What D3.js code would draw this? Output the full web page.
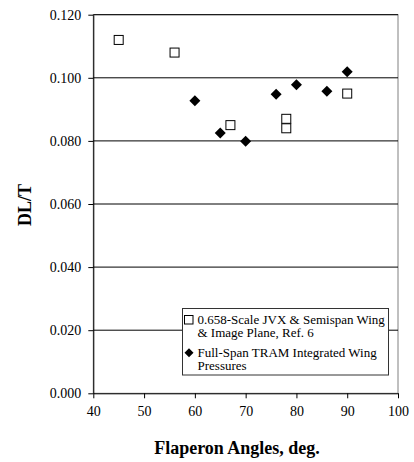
<!DOCTYPE html>
<html>
<head>
<meta charset="utf-8">
<style>
  body { margin: 0; background: #fff; }
  svg, svg text { font-family: "Liberation Serif", "Times New Roman", serif !important; }
</style>
</head>
<body>
<svg width="414" height="462"></svg>
<script src="https://d3js.org/d3.v7.min.js"></script>
<script>

// data
var jvxAngles = [45, 56, 67, 78, 78, 90];
var jvxDLT    = [0.112, 0.108, 0.085, 0.087, 0.084, 0.095];
var tramAngles = [60, 65, 70, 76, 80, 86, 90];
var tramDLT    = [0.0927, 0.0825, 0.0799, 0.0948, 0.0978, 0.0957, 0.1019];
var xTicks = [40, 50, 60, 70, 80, 90, 100];
var yTicks = [0, 0.02, 0.04, 0.06, 0.08, 0.10, 0.12];
var legendLines = [
  ["0.658-Scale JVX & Semispan Wing", "& Image Plane, Ref. 6"],
  ["Full-Span TRAM Integrated Wing", "Pressures"]
];

var svg = d3.select("svg"),
    margin = {top: 14.7, right: 16, bottom: 68.7, left: 93.3},
    width = +svg.attr("width") - margin.left - margin.right,
    height = +svg.attr("height") - margin.top - margin.bottom,
    g = svg.append("g")
      .attr("transform", "translate(" + margin.left + "," + margin.top + ")");

var x = d3.scaleLinear().domain([40, 100]).range([0, width]);
var y = d3.scaleLinear().domain([0, 0.12]).range([height, 0]);

// plot frame (grey) then grid
g.append("rect")
    .attr("width", width).attr("height", height)
    .attr("fill", "none").attr("stroke", "#808080");

g.selectAll(".grid")
    .data(yTicks.filter(function(d) { return d > 0; }))
  .enter().append("line")
    .attr("x1", 0).attr("x2", width)
    .attr("y1", function(d) { return y(d); })
    .attr("y2", function(d) { return y(d); })
    .attr("stroke", "#000").attr("stroke-width", 1);

// axes
var xAxis = g.append("g")
    .attr("transform", "translate(0," + height + ")")
    .call(d3.axisBottom(x).tickValues(xTicks).tickSize(5).tickSizeOuter(0).tickPadding(8));
var yAxis = g.append("g")
    .call(d3.axisLeft(y).tickValues(yTicks).tickFormat(d3.format(".3f")).tickSize(5).tickSizeOuter(0).tickPadding(7));

[xAxis, yAxis].forEach(function(a) {
  a.attr("font-family", null).attr("font-size", null);
  a.selectAll("text").style("font-size", "14px").attr("fill", "#000");
  a.selectAll("line, path").attr("stroke", "#000");
});

// series
var jvx = jvxAngles.map(function(a, i) { return [a, jvxDLT[i]]; });
var tram = tramAngles.map(function(a, i) { return [a, tramDLT[i]]; });

g.selectAll(".sq")
    .data(jvx)
  .enter().append("rect")
    .attr("x", function(d) { return x(d[0]) - 4.5; })
    .attr("y", function(d) { return y(d[1]) - 4.5; })
    .attr("width", 9).attr("height", 9)
    .attr("fill", "#fff").attr("stroke", "#000").attr("stroke-width", 1);

var diamond = "M0,-5.5L5.5,0L0,5.5L-5.5,0Z";
g.selectAll(".dm")
    .data(tram)
  .enter().append("path")
    .attr("transform", function(d) { return "translate(" + x(d[0]) + "," + y(d[1]) + ")"; })
    .attr("d", diamond)
    .attr("fill", "#000");

// legend
var lg = svg.append("g").attr("transform", "translate(182.5,308.5)");
lg.append("rect")
    .attr("width", 206).attr("height", 66.5)
    .attr("fill", "#fff").attr("stroke", "#333").attr("stroke-width", 1);

lg.append("rect")
    .attr("x", 2).attr("y", 7)
    .attr("width", 8.5).attr("height", 8.5)
    .attr("fill", "#fff").attr("stroke", "#000");
lg.append("path")
    .attr("transform", "translate(6.5,44.2)")
    .attr("d", "M0,-4.5L4.5,0L0,4.5L-4.5,0Z")
    .attr("fill", "#000");

var lineY = [[15.3, 28.6], [48.7, 61.5]];
legendLines.forEach(function(lines, i) {
  lines.forEach(function(t, j) {
    lg.append("text")
        .attr("x", 15).attr("y", lineY[i][j])
        .style("font-size", "13px")
        .attr("fill", "#000")
        .text(t);
  });
});

// axis titles
svg.append("text")
    .attr("transform", "translate(31,205) rotate(-90)")
    .attr("text-anchor", "middle")
    .style("font-size", "18px").attr("font-weight", "bold")
    .text("DL/T");

svg.append("text")
    .attr("x", 237).attr("y", 454)
    .attr("text-anchor", "middle")
    .style("font-size", "18px").attr("font-weight", "bold")
    .text("Flaperon Angles, deg.");

</script>
</body>
</html>
